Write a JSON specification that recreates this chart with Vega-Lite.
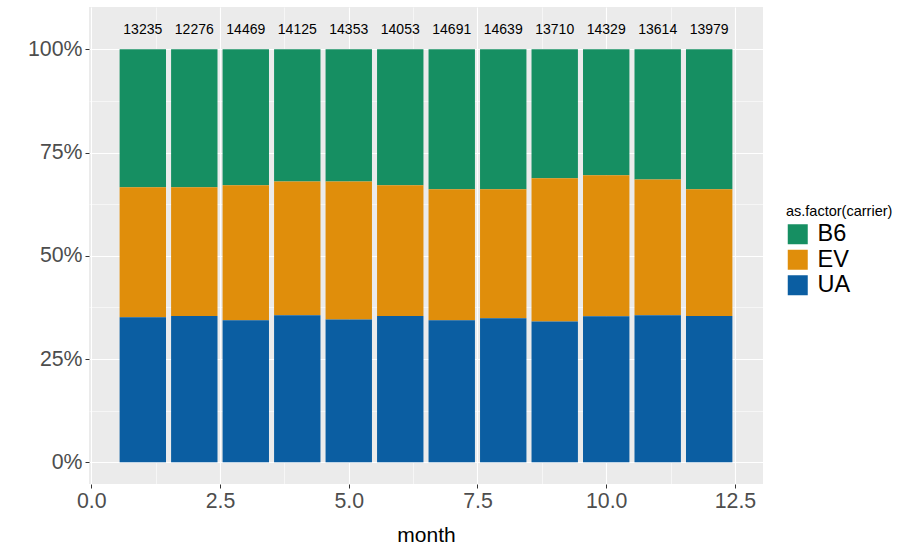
{
  "$schema": "https://vega.github.io/schema/vega-lite/v6.json",
  "width": 674,
  "height": 477,
  "autosize": "none",
  "padding": {"left": 89, "top": 7, "right": 145, "bottom": 69},
  "background": "white",
  "config": {
    "font": "Liberation Sans",
    "view": {"fill": "#EBEBEB", "stroke": null}
  },
  "datasets": {
    "flights": [
      {"month": 1, "carrier": "B6", "n": 4420}, {"month": 1, "carrier": "EV", "n": 4169}, {"month": 1, "carrier": "UA", "n": 4646},
      {"month": 2, "carrier": "B6", "n": 4100}, {"month": 2, "carrier": "EV", "n": 3830}, {"month": 2, "carrier": "UA", "n": 4346},
      {"month": 3, "carrier": "B6", "n": 4761}, {"month": 3, "carrier": "EV", "n": 4731}, {"month": 3, "carrier": "UA", "n": 4977},
      {"month": 4, "carrier": "B6", "n": 4519}, {"month": 4, "carrier": "EV", "n": 4577}, {"month": 4, "carrier": "UA", "n": 5029},
      {"month": 5, "carrier": "B6", "n": 4593}, {"month": 5, "carrier": "EV", "n": 4794}, {"month": 5, "carrier": "UA", "n": 4966},
      {"month": 6, "carrier": "B6", "n": 4623}, {"month": 6, "carrier": "EV", "n": 4455}, {"month": 6, "carrier": "UA", "n": 4975},
      {"month": 7, "carrier": "B6", "n": 4980}, {"month": 7, "carrier": "EV", "n": 4657}, {"month": 7, "carrier": "UA", "n": 5054},
      {"month": 8, "carrier": "B6", "n": 4963}, {"month": 8, "carrier": "EV", "n": 4567}, {"month": 8, "carrier": "UA", "n": 5109},
      {"month": 9, "carrier": "B6", "n": 4278}, {"month": 9, "carrier": "EV", "n": 4757}, {"month": 9, "carrier": "UA", "n": 4675},
      {"month": 10, "carrier": "B6", "n": 4371}, {"month": 10, "carrier": "EV", "n": 4886}, {"month": 10, "carrier": "UA", "n": 5072},
      {"month": 11, "carrier": "B6", "n": 4288}, {"month": 11, "carrier": "EV", "n": 4479}, {"month": 11, "carrier": "UA", "n": 4847},
      {"month": 12, "carrier": "B6", "n": 4738}, {"month": 12, "carrier": "EV", "n": 4292}, {"month": 12, "carrier": "UA", "n": 4949}
    ],
    "totals": [
      {"month": 1, "total": 13235}, {"month": 2, "total": 12276}, {"month": 3, "total": 14469},
      {"month": 4, "total": 14125}, {"month": 5, "total": 14353}, {"month": 6, "total": 14053},
      {"month": 7, "total": 14691}, {"month": 8, "total": 14639}, {"month": 9, "total": 13710},
      {"month": 10, "total": 14329}, {"month": 11, "total": 13614}, {"month": 12, "total": 13979}
    ]
  },
  "layer": [
    {
      "data": {"name": "flights"},
      "mark": {"type": "bar", "width": 46.4},
      "encoding": {
        "x": {
          "field": "month",
          "type": "quantitative",
          "scale": {"domain": [-0.045, 13.045], "nice": false, "zero": false, "padding": 0},
          "axis": {
            "values": [0, 1.25, 2.5, 3.75, 5, 6.25, 7.5, 8.75, 10, 11.25, 12.5],
            "labelExpr": "round(datum.value * 4) % 10 == 0 ? format(datum.value, '.1f') : ''",
            "title": "month",
            "titleFontSize": 21,
            "titleFontWeight": "normal",
            "titleColor": "black",
            "titlePadding": 13,
            "labelFontSize": 21.3,
            "labelColor": "#4D4D4D",
            "labelPadding": 2,
            "domain": false,
            "tickColor": "#333333",
            "tickSize": 4,
            "tickOpacity": {"condition": {"test": "round(datum.value * 4) % 10 == 0", "value": 1}, "value": 0},
            "grid": true,
            "gridColor": "white",
            "gridWidth": {"condition": {"test": "round(datum.value * 4) % 10 == 0", "value": 1.1}, "value": 0.55}
          }
        },
        "y": {
          "field": "n",
          "type": "quantitative",
          "stack": "normalize",
          "scale": {"domain": [-0.0525, 1.1025], "nice": false, "zero": false, "padding": 0},
          "axis": {
            "values": [0, 0.125, 0.25, 0.375, 0.5, 0.625, 0.75, 0.875, 1],
            "labelExpr": "round(datum.value * 8) % 2 == 0 ? format(datum.value, '.0%') : ''",
            "title": null,
            "labelFontSize": 21.3,
            "labelColor": "#4D4D4D",
            "labelPadding": 3,
            "domain": false,
            "tickColor": "#333333",
            "tickSize": 4,
            "tickOpacity": {"condition": {"test": "round(datum.value * 8) % 2 == 0", "value": 1}, "value": 0},
            "grid": true,
            "gridColor": "white",
            "gridWidth": {"condition": {"test": "round(datum.value * 8) % 2 == 0", "value": 1.1}, "value": 0.55}
          }
        },
        "color": {
          "field": "carrier",
          "type": "nominal",
          "scale": {"domain": ["B6", "EV", "UA"], "range": ["#168F62", "#E08E0B", "#0B5EA2"]},
          "legend": {
            "title": "as.factor(carrier)",
            "orient": "none",
            "legendX": 697,
            "legendY": 198,
            "titleFontSize": 14.5,
            "titleFontWeight": "normal",
            "titleColor": "black",
            "titlePadding": 3,
            "symbolType": "square",
            "symbolSize": 400,
            "symbolStrokeWidth": 0,
            "symbolOpacity": 1,
            "labelFontSize": 23.5,
            "labelColor": "black",
            "labelOffset": 8,
            "rowPadding": 0.5
          }
        },
        "order": {"field": "carrier", "sort": "descending"}
      }
    },
    {
      "data": {"name": "totals"},
      "mark": {"type": "text", "fontSize": 14, "color": "black", "baseline": "middle", "dy": 1}, 
      "encoding": {
        "x": {"field": "month", "type": "quantitative"},
        "y": {"datum": 1.05, "type": "quantitative"},
        "text": {"field": "total", "type": "quantitative", "format": "d"}
      }
    }
  ]
}
